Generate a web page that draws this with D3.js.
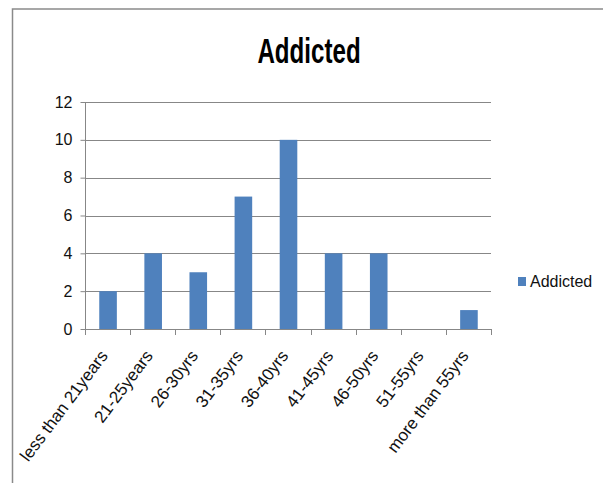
<!DOCTYPE html>
<html>
<head>
<meta charset="utf-8">
<script src="https://cdn.jsdelivr.net/npm/d3@7"></script>
<style>
  body { margin: 0; background: #fff; }
  text { font-family: "Liberation Sans", sans-serif; }
</style>
</head>
<body>
<div id="container"></div>
<script>
const categories = ['less than 21years', '21-25years', '26-30yrs', '31-35yrs', '36-40yrs',
    '41-45yrs', '46-50yrs', '51-55yrs', 'more than 55yrs'];
const addicted = [2, 4, 3, 7, 10, 4, 4, 0, 1];
const yTicks = [0, 2, 4, 6, 8, 10, 12];
const seriesName = 'Addicted';

const W = 603, H = 483;
const plot = { left: 85, right: 491, top: 102, bottom: 329 };
const barColor = '#4f81bd';
const lineColor = '#878787';

const svg = d3.select('#container')
    .append('svg')
    .attr('width', W)
    .attr('height', H);

// chart frame (only top and left edges are visible in the crop)
svg.append('rect')
    .attr('x', 12.5)
    .attr('y', 9)
    .attr('width', 700)
    .attr('height', 600)
    .attr('fill', 'none')
    .attr('stroke', '#8a8a8a')
    .attr('stroke-width', 1.5);

// title: tall narrow bold face
svg.append('text')
    .attr('transform', 'translate(309, 63) scale(0.69, 1)')
    .attr('text-anchor', 'middle')
    .attr('font-size', 35)
    .attr('font-weight', 'bold')
    .text(seriesName);

const x = d3.scaleBand()
    .domain(categories)
    .range([plot.left, plot.right]);

const y = d3.scaleLinear()
    .domain([0, 12])
    .range([plot.bottom, plot.top]);

// gridlines
svg.append('g')
    .selectAll('line')
    .data(yTicks.filter(d => d > 0))
    .enter()
    .append('line')
    .attr('x1', plot.left)
    .attr('x2', plot.right)
    .attr('y1', d => Math.round(y(d)) + 0.5)
    .attr('y2', d => Math.round(y(d)) + 0.5)
    .attr('stroke', lineColor)
    .attr('stroke-width', 1);

// y axis
const yAxis = svg.append('g')
    .attr('transform', `translate(${plot.left + 0.5}, 0)`)
    .call(d3.axisLeft(y).tickValues(yTicks).tickSize(5).tickPadding(8));
yAxis.select('.domain').attr('stroke', lineColor).attr('d', `M0,${plot.top}V${plot.bottom}`);
yAxis.selectAll('.tick line').attr('stroke', lineColor);
yAxis.selectAll('.tick text')
    .attr('font-size', 16)
    .attr('fill', '#111')
    .attr('font-family', '"Liberation Sans", sans-serif');

// bars
const barW = x.bandwidth() * 0.39;
svg.append('g')
    .selectAll('rect')
    .data(addicted)
    .enter()
    .append('rect')
    .attr('x', (d, i) => x(categories[i]) + (x.bandwidth() - barW) / 2 + 0.5)
    .attr('y', d => y(d))
    .attr('width', barW)
    .attr('height', d => y(0) - y(d))
    .attr('fill', barColor);

// x axis line and boundary ticks
const xAxis = svg.append('g');
xAxis.append('line')
    .attr('x1', plot.left)
    .attr('x2', plot.right)
    .attr('y1', plot.bottom + 0.5)
    .attr('y2', plot.bottom + 0.5)
    .attr('stroke', lineColor);
xAxis.selectAll('.bt')
    .data(d3.range(categories.length + 1))
    .enter()
    .append('line')
    .attr('x1', i => Math.round(plot.left + i * x.step()) + 0.5)
    .attr('x2', i => Math.round(plot.left + i * x.step()) + 0.5)
    .attr('y1', plot.bottom)
    .attr('y2', plot.bottom + 6)
    .attr('stroke', lineColor);

// x labels
xAxis.selectAll('.lbl')
    .data(categories)
    .enter()
    .append('text')
    .attr('transform', d => `translate(${x(d) + x.bandwidth() / 2 + 1}, ${plot.bottom + 27}) rotate(-53)`)
    .attr('text-anchor', 'end')
    .attr('font-size', 17)
    .attr('fill', '#111')
    .text(d => d);

// legend
svg.append('rect')
    .attr('x', 518)
    .attr('y', 277)
    .attr('width', 8)
    .attr('height', 9)
    .attr('fill', barColor);
svg.append('text')
    .attr('x', 530)
    .attr('y', 287)
    .attr('font-size', 16)
    .attr('fill', '#111')
    .text(seriesName);
</script>
</body>
</html>
